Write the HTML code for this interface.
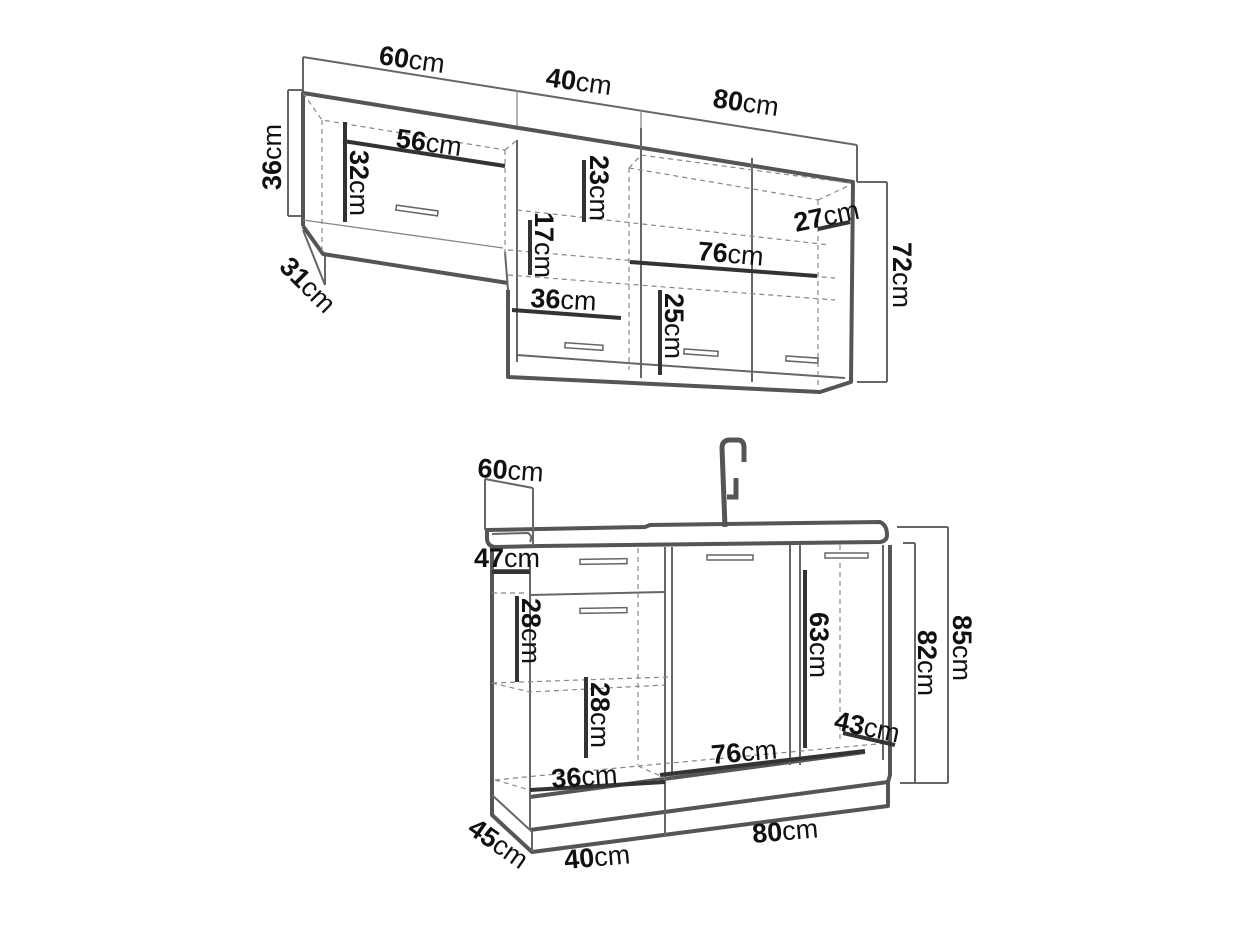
<!DOCTYPE html>
<html><head><meta charset="utf-8"><style>
html,body{margin:0;padding:0;background:#fff;}
svg{display:block;}
.b{font-weight:bold;}
text{font-family:"Liberation Sans",sans-serif;font-size:27px;fill:#111;}
.th{stroke:#555;stroke-width:4;fill:none;stroke-linejoin:round;}
.md{stroke:#666;stroke-width:2;fill:none;}
.tn{stroke:#888;stroke-width:1.3;fill:none;}
.ds{stroke:#888;stroke-width:1.2;fill:none;stroke-dasharray:5 4;}
.bar{stroke:#333;stroke-width:4;fill:none;}
.h{fill:#fff;stroke:#666;stroke-width:1.5;}
</style></head><body>
<svg width="1252" height="939" viewBox="0 0 1252 939" xmlns="http://www.w3.org/2000/svg">
<!-- ===== TOP UNIT ===== -->
<polyline class="md" points="303,57 857,145"/>
<line class="md" x1="303" y1="57" x2="303" y2="92"/>
<line class="tn" x1="517" y1="90" x2="517" y2="130"/>
<line class="tn" x1="641" y1="110" x2="641" y2="150"/>
<line class="md" x1="857" y1="145" x2="857" y2="182"/>
<line class="md" x1="288" y1="90" x2="288" y2="216"/>
<line class="md" x1="288" y1="90" x2="303" y2="90"/>
<line class="md" x1="288" y1="216" x2="303" y2="216"/>
<line class="md" x1="303" y1="230" x2="325" y2="285"/>
<line class="md" x1="325" y1="255" x2="325" y2="285"/>
<line class="md" x1="887" y1="182" x2="887" y2="382"/>
<line class="md" x1="857" y1="182" x2="887" y2="182"/>
<line class="md" x1="857" y1="382" x2="887" y2="382"/>
<polyline class="th" points="303,226 303,93 853,182 851,382 820,392 508,377 508,290"/>
<polyline class="th" points="303,226 323,254 508,283"/>
<line class="md" x1="505" y1="252" x2="508" y2="290"/>
<line class="md" x1="517" y1="140" x2="517" y2="362"/>
<line class="md" x1="641" y1="128" x2="641" y2="378"/>
<line class="md" x1="752" y1="158" x2="752" y2="382"/>
<line class="md" x1="517" y1="355" x2="641" y2="364"/>
<line class="md" x1="641" y1="364" x2="845" y2="378"/>
<line class="tn" x1="303" y1="220" x2="503" y2="248"/>
<polyline class="ds" points="303,93 322,120 505,150"/>
<line class="ds" x1="322" y1="120" x2="322" y2="254"/>
<line class="ds" x1="505" y1="150" x2="505" y2="255"/>
<polyline class="ds" points="505,150 517,140"/>
<line class="ds" x1="517" y1="210" x2="830" y2="245"/>
<line class="ds" x1="508" y1="275" x2="835" y2="300"/>
<line class="ds" x1="629" y1="168" x2="629" y2="370"/>
<polyline class="ds" points="629,168 641,155 850,183"/>
<line class="ds" x1="818" y1="200" x2="818" y2="388"/>
<polyline class="ds" points="818,200 850,185"/>
<line class="ds" x1="629" y1="168" x2="818" y2="200"/>
<line class="ds" x1="508" y1="250" x2="835" y2="278"/>
<line class="bar" x1="343" y1="141" x2="505" y2="166"/>
<line class="bar" x1="345" y1="122" x2="345" y2="222"/>
<line class="bar" x1="584" y1="160" x2="584" y2="222"/>
<line class="bar" x1="530" y1="220" x2="530" y2="275"/>
<line class="bar" x1="512" y1="310" x2="621" y2="318"/>
<line class="bar" x1="630" y1="262" x2="817" y2="276"/>
<line class="bar" x1="660" y1="290" x2="660" y2="375"/>
<line class="bar" x1="818" y1="229" x2="850" y2="222"/>
<rect class="h" x="396" y="208" width="42" height="5" transform="rotate(8 417 210)"/>
<rect class="h" x="565" y="344" width="38" height="5" transform="rotate(4 584 346)"/>
<rect class="h" x="684" y="350" width="34" height="5" transform="rotate(4 700 352)"/>
<rect class="h" x="786" y="357" width="32" height="5" transform="rotate(4 802 359)"/>
<text transform="translate(378,64) rotate(8)"><tspan class="b">60</tspan>cm</text>
<text transform="translate(545,86) rotate(8)"><tspan class="b">40</tspan>cm</text>
<text transform="translate(712,107) rotate(8)"><tspan class="b">80</tspan>cm</text>
<text transform="translate(395,147) rotate(8)"><tspan class="b">56</tspan>cm</text>
<text transform="translate(697,260) rotate(5)"><tspan class="b">76</tspan>cm</text>
<text transform="translate(530,307) rotate(3)"><tspan class="b">36</tspan>cm</text>
<text transform="translate(796,232) rotate(-12)"><tspan class="b">27</tspan>cm</text>
<text transform="translate(281,190) rotate(-90)"><tspan class="b">36</tspan>cm</text>
<text transform="translate(350,150) rotate(90)"><tspan class="b">32</tspan>cm</text>
<text transform="translate(590,155) rotate(90)"><tspan class="b">23</tspan>cm</text>
<text transform="translate(535,212) rotate(90)"><tspan class="b">17</tspan>cm</text>
<text transform="translate(665,293) rotate(90)"><tspan class="b">25</tspan>cm</text>
<text transform="translate(893,242) rotate(90)"><tspan class="b">72</tspan>cm</text>
<text transform="translate(278,268) rotate(45)"><tspan class="b">31</tspan>cm</text>

<!-- ===== BOTTOM UNIT ===== -->
<path d="M725,527 L722,448 Q722,440 730,440 L738,440 Q744,440 744,448 L744,462" stroke="#555" stroke-width="5" fill="none"/>
<path d="M736,478 L736,497 L727,497" stroke="#555" stroke-width="5" fill="none"/>
<path class="th" d="M487,530 L645,527 L650,525 L880,522 Q887,525 887,535 Q887,541 880,542 L540,546 L495,547 Q487,546 487,538 Z"/>
<path class="md" d="M492,534 L528,533 Q533,536 530,542"/>
<line class="md" x1="485" y1="479" x2="533" y2="488"/>
<line class="md" x1="485" y1="479" x2="485" y2="530"/>
<line class="md" x1="533" y1="488" x2="533" y2="545"/>
<polyline class="th" points="492,547 492,815 532,852 888,806 888,782 890,775 890,545"/>
<polyline class="th" points="530,830 888,782"/>
<polyline class="th" points="530,797 865,752"/>
<line class="md" x1="530" y1="560" x2="530" y2="830"/>
<line class="md" x1="532" y1="830" x2="532" y2="852"/>
<line class="md" x1="492" y1="795" x2="530" y2="830"/>
<line class="md" x1="665" y1="547" x2="665" y2="795"/>
<line class="md" x1="665" y1="785" x2="665" y2="836"/>
<line class="md" x1="672" y1="547" x2="672" y2="780"/>
<line class="md" x1="790" y1="545" x2="790" y2="765"/>
<line class="md" x1="800" y1="545" x2="800" y2="765"/>
<line class="md" x1="883" y1="545" x2="883" y2="760"/>
<line class="md" x1="530" y1="595" x2="665" y2="592"/>
<line class="md" x1="492" y1="570" x2="530" y2="570"/>
<line class="ds" x1="492" y1="593" x2="528" y2="593"/>
<line class="ds" x1="492" y1="683" x2="668" y2="677"/>
<polyline class="ds" points="492,683 530,692 665,685"/>
<line class="ds" x1="638" y1="548" x2="638" y2="765"/>
<line class="ds" x1="840" y1="545" x2="840" y2="740"/>
<polyline class="ds" points="495,780 530,790 665,780"/>
<line class="ds" x1="495" y1="780" x2="638" y2="766"/>
<line class="ds" x1="638" y1="766" x2="888" y2="743"/>
<polyline class="ds" points="638,766 665,778"/>
<line class="md" x1="948" y1="527" x2="948" y2="783"/>
<line class="md" x1="897" y1="527" x2="948" y2="527"/>
<line class="md" x1="900" y1="783" x2="948" y2="783"/>
<line class="md" x1="915" y1="543" x2="915" y2="783"/>
<line class="md" x1="903" y1="543" x2="915" y2="543"/>
<line class="bar" x1="805" y1="570" x2="805" y2="748"/>
<line class="bar" x1="517" y1="596" x2="517" y2="682"/>
<line class="bar" x1="586" y1="677" x2="586" y2="758"/>
<line class="bar" x1="843" y1="733" x2="895" y2="745"/>
<line class="bar" x1="660" y1="775" x2="865" y2="751"/>
<line class="bar" x1="530" y1="790" x2="665" y2="782"/>
<line class="bar" x1="492" y1="572" x2="530" y2="572"/>
<rect class="h" x="580" y="559" width="47" height="5" transform="rotate(-1 603 561)"/>
<rect class="h" x="580" y="608" width="47" height="5" transform="rotate(-1 603 610)"/>
<rect class="h" x="707" y="555" width="46" height="5"/>
<rect class="h" x="825" y="553" width="43" height="5"/>
<text transform="translate(477,477) rotate(4)"><tspan class="b">60</tspan>cm</text>
<text transform="translate(474,567)"><tspan class="b">47</tspan>cm</text>
<text transform="translate(522,598) rotate(90)"><tspan class="b">28</tspan>cm</text>
<text transform="translate(591,682) rotate(90)"><tspan class="b">28</tspan>cm</text>
<text transform="translate(810,612) rotate(90)"><tspan class="b">63</tspan>cm</text>
<text transform="translate(918,630) rotate(90)"><tspan class="b">82</tspan>cm</text>
<text transform="translate(953,615) rotate(90)"><tspan class="b">85</tspan>cm</text>
<text transform="translate(833,729) rotate(12)"><tspan class="b">43</tspan>cm</text>
<text transform="translate(712,764) rotate(-5)"><tspan class="b">76</tspan>cm</text>
<text transform="translate(552,788) rotate(-4)"><tspan class="b">36</tspan>cm</text>
<text transform="translate(753,843) rotate(-5)"><tspan class="b">80</tspan>cm</text>
<text transform="translate(565,869) rotate(-5)"><tspan class="b">40</tspan>cm</text>
<text transform="translate(466,832) rotate(35)"><tspan class="b">45</tspan>cm</text>
</svg>
</body></html>
